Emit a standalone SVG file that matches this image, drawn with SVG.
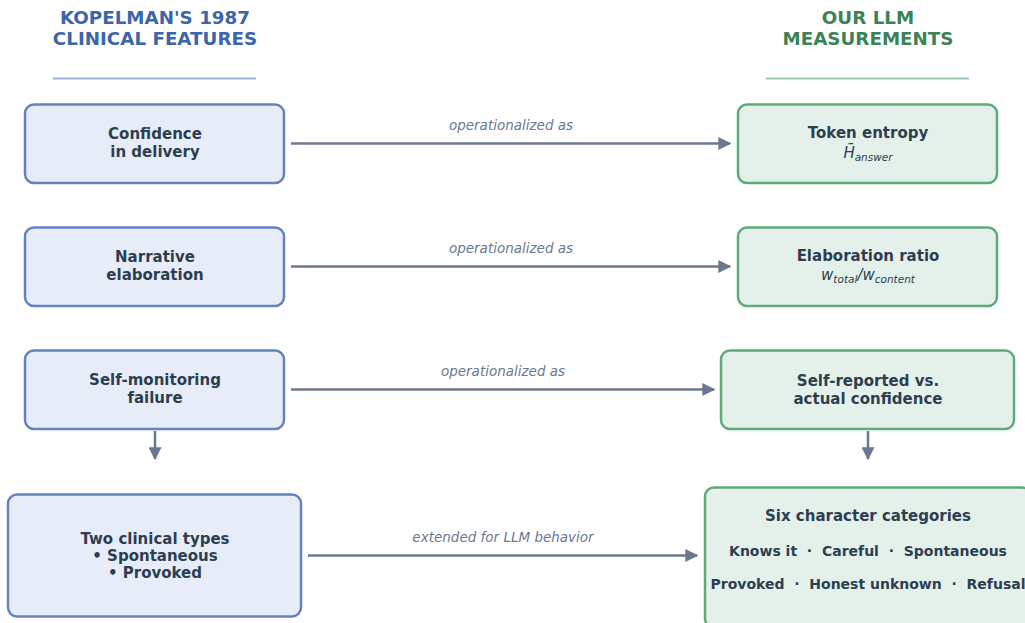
<svg xmlns="http://www.w3.org/2000/svg" width="1025" height="623" viewBox="0 0 1025 623">
<defs>
<marker id="ah" viewBox="0 0 10 10" refX="9" refY="5" markerWidth="5.2" markerHeight="5.2" orient="auto" markerUnits="strokeWidth">
<path d="M0,0 L10,5 L0,10 z" fill="#6b788f"/>
</marker>
<style>
.t{font-family:"DejaVu Sans",sans-serif;font-weight:bold;font-size:18.3px;text-anchor:middle}
.lb{fill:#3c65aa}.gr{fill:#3c8258}
.lbox{fill:#e6edf8;stroke:#6383bd;stroke-width:2.5}
.gbox{fill:#e4f1ea;stroke:#5daa7a;stroke-width:2.5}
.n{font-family:"DejaVu Sans",sans-serif;font-weight:bold;font-size:15px;fill:#2d3e50;text-anchor:middle}
.m{font-family:"DejaVu Sans",sans-serif;font-style:italic;font-size:15px;fill:#2d3e50;text-anchor:middle}
.s{font-family:"DejaVu Sans",sans-serif;font-weight:bold;font-size:14px;fill:#2d3e50;text-anchor:middle;white-space:pre}
.c{stroke:#6b788f;stroke-width:2.5;fill:none;marker-end:url(#ah)}
.cl{font-family:"DejaVu Sans",sans-serif;font-style:italic;font-size:13.5px;fill:#6b788f;text-anchor:middle}
</style>
</defs>
<rect width="1025" height="623" fill="#ffffff"/>
<g id="header-left">
<text class="t lb" x="155" y="24">KOPELMAN'S 1987</text>
<text class="t lb" x="155" y="45">CLINICAL FEATURES</text>
<line x1="53" y1="78.5" x2="256" y2="78.5" stroke="#9bb1d6" stroke-width="2"/>
</g>
<g id="header-right">
<text class="t gr" x="868" y="24">OUR LLM</text>
<text class="t gr" x="868" y="45">MEASUREMENTS</text>
<line x1="766" y1="78.5" x2="969" y2="78.5" stroke="#9bc9ab" stroke-width="2"/>
</g>
<g id="connectors">
<line class="c" x1="291" y1="143.5" x2="730" y2="143.5"/>
<text class="cl" x="511" y="130">operationalized as</text>
<line class="c" x1="291" y1="266.5" x2="730" y2="266.5"/>
<text class="cl" x="511" y="253">operationalized as</text>
<line class="c" x1="291" y1="389.5" x2="714" y2="389.5"/>
<text class="cl" x="503" y="376">operationalized as</text>
<line class="c" x1="308" y1="555.5" x2="697" y2="555.5"/>
<text class="cl" x="503" y="542">extended for LLM behavior</text>
<line class="c" x1="155" y1="431" x2="155" y2="459"/>
<line class="c" x1="868" y1="431" x2="868" y2="459"/>
</g>
<g id="n-confidence">
<rect class="lbox" x="25" y="104.5" width="259" height="78.5" rx="9"/>
<text class="n" x="155" y="139">Confidence</text>
<text class="n" x="155" y="157">in delivery</text>
</g>
<g id="n-narrative">
<rect class="lbox" x="25" y="227.5" width="259" height="78.5" rx="9"/>
<text class="n" x="155" y="262">Narrative</text>
<text class="n" x="155" y="280">elaboration</text>
</g>
<g id="n-selfmon">
<rect class="lbox" x="25" y="350.5" width="259" height="78.5" rx="9"/>
<text class="n" x="155" y="385">Self-monitoring</text>
<text class="n" x="155" y="403">failure</text>
</g>
<g id="n-types">
<rect class="lbox" x="8" y="494.5" width="293" height="122" rx="9"/>
<text class="n" x="155" y="544">Two clinical types</text>
<text class="n" x="155" y="561">• Spontaneous</text>
<text class="n" x="155" y="578">• Provoked</text>
</g>
<g id="n-entropy">
<rect class="gbox" x="738" y="104.5" width="259" height="78.5" rx="9"/>
<text class="n" x="868" y="138">Token entropy</text>
<text class="m" x="868" y="158">H̄<tspan font-size="10.5" dy="3">answer</tspan></text>
</g>
<g id="n-ratio">
<rect class="gbox" x="738" y="227.5" width="259" height="78.5" rx="9"/>
<text class="n" x="868" y="261">Elaboration ratio</text>
<text class="m" x="868" y="280">w<tspan font-size="10.5" dy="3">total</tspan><tspan dy="-3">/w</tspan><tspan font-size="10.5" dy="3">content</tspan></text>
</g>
<g id="n-selfrep">
<rect class="gbox" x="721" y="350.5" width="293" height="78.5" rx="9"/>
<text class="n" x="868" y="386">Self-reported vs.</text>
<text class="n" x="868" y="404">actual confidence</text>
</g>
<g id="n-six">
<rect class="gbox" x="705" y="487.5" width="326" height="140" rx="9"/>
<text class="n" x="868" y="521">Six character categories</text>
<text class="s" x="868" y="556">Knows it  ·  Careful  ·  Spontaneous</text>
<text class="s" x="868" y="589">Provoked  ·  Honest unknown  ·  Refusal</text>
</g>
</svg>
